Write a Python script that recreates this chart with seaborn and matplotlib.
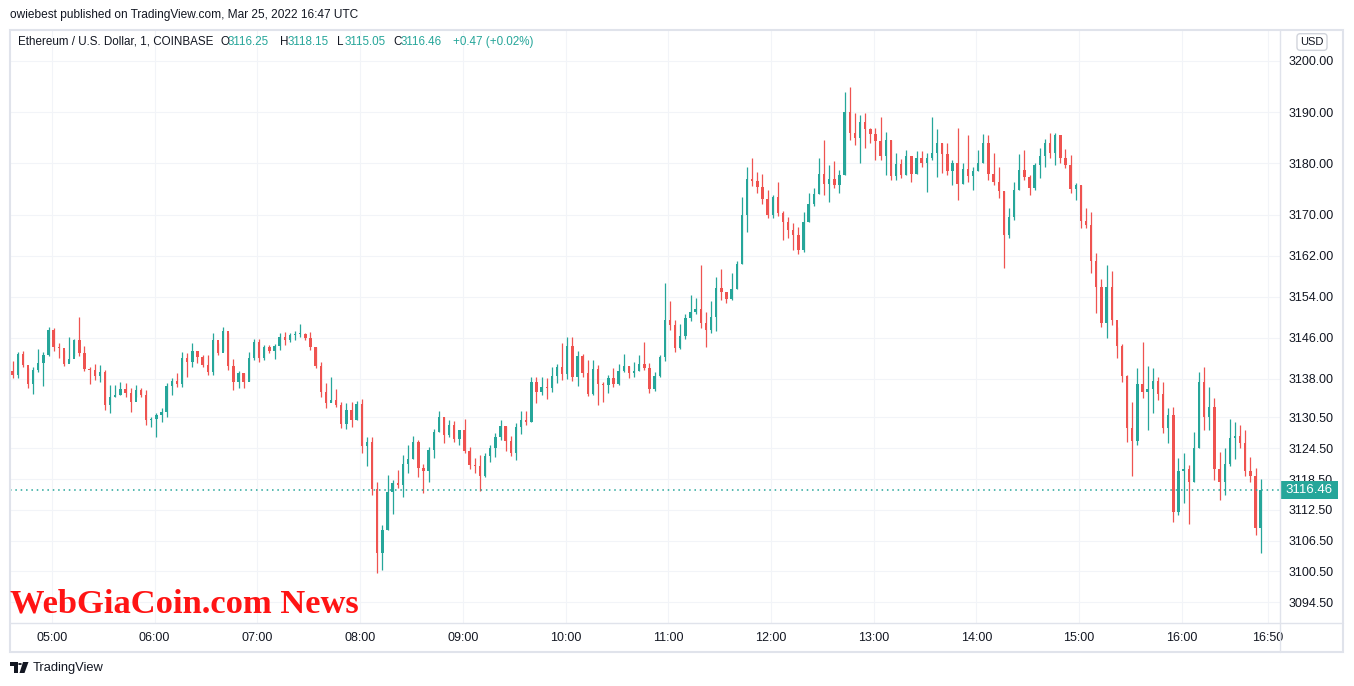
import numpy as np
import pandas as pd
import matplotlib
matplotlib.use("Agg")
import matplotlib.pyplot as plt
import matplotlib.transforms as mtransforms
from matplotlib.patches import Rectangle, Circle, Polygon
import seaborn as sns

# --- chart data (3-minute bars) ---
session_start = "04:36"
bar_minutes = 3
first_open = 3139.5

closes = [
    3138.8, 3142.8, 3140.8, 3137.0, 3139.8, 3141.2, 3142.6, 3147.6, 3144.2, 3144.0,
    3141.0, 3141.8, 3145.6, 3143.0, 3140.0, 3139.8, 3138.5, 3139.4, 3133.0, 3134.5,
    3134.8, 3136.0, 3135.2, 3133.6, 3135.8, 3134.8, 3130.0, 3130.2, 3131.0, 3131.6,
    3136.6, 3137.6, 3137.0, 3142.0, 3141.4, 3143.5, 3142.2, 3140.8, 3139.4, 3145.5,
    3143.0, 3147.3, 3140.5, 3137.5, 3139.2, 3137.4, 3142.0, 3145.2, 3142.0, 3144.2,
    3143.4, 3144.4, 3146.2, 3145.6, 3146.6, 3146.8, 3146.8, 3146.0, 3144.2, 3140.6,
    3135.4, 3133.4, 3134.0, 3133.0, 3129.2, 3132.0, 3130.0, 3133.2, 3125.0, 3125.8,
    3116.6, 3104.0, 3108.5, 3116.0, 3117.8, 3117.4, 3121.5, 3122.5, 3125.8, 3120.6,
    3120.0, 3124.2, 3127.6, 3130.6, 3127.0, 3129.0, 3126.4, 3128.0, 3124.0, 3121.2,
    3121.0, 3119.0, 3123.0, 3124.6, 3126.6, 3128.8, 3126.0, 3123.6, 3128.6, 3130.0,
    3129.6, 3137.5, 3135.5, 3136.5, 3136.2, 3138.6, 3140.4, 3139.0, 3144.5, 3138.4,
    3142.4, 3139.2, 3135.0, 3140.0, 3137.0, 3136.8, 3138.2, 3137.0, 3139.6, 3140.5,
    3139.2, 3139.6, 3141.0, 3140.2, 3136.0, 3138.6, 3142.2, 3149.5, 3148.5, 3144.0,
    3146.4, 3149.8, 3151.0, 3151.6, 3149.0, 3147.6, 3150.0, 3155.8, 3155.0, 3153.6,
    3155.6, 3160.4, 3170.0, 3177.0, 3176.5, 3175.4, 3173.0, 3170.0, 3173.4, 3170.4,
    3168.6, 3167.0, 3166.0, 3163.2, 3168.6, 3172.0, 3174.0, 3178.0, 3176.0, 3177.0,
    3175.8, 3177.8, 3190.0, 3186.0, 3185.0, 3188.0, 3186.8, 3185.8, 3184.4, 3181.5,
    3184.6, 3177.6, 3179.8, 3177.8, 3181.5, 3178.0, 3181.0, 3180.0, 3181.0, 3182.0,
    3184.0, 3181.8, 3178.6, 3180.0, 3176.0, 3179.0, 3177.6, 3178.6, 3180.0, 3184.0,
    3178.0, 3176.4, 3174.6, 3166.0, 3169.5, 3174.8, 3178.8, 3177.4, 3175.2, 3179.6,
    3181.5, 3184.0, 3182.0, 3185.6, 3181.0, 3179.6, 3175.0, 3175.8, 3168.8, 3168.0,
    3161.0, 3156.0, 3149.0, 3156.0, 3149.5, 3144.5, 3138.5, 3128.5, 3126.0, 3137.0,
    3135.5, 3136.0, 3137.6, 3135.0, 3128.5, 3131.0, 3112.0, 3120.0, 3120.5, 3118.0,
    3124.5, 3137.5, 3130.5, 3132.5, 3120.5, 3118.0, 3121.5, 3126.5, 3126.8, 3125.6,
    3120.0, 3119.0, 3109.0, 3116.46,
]

highs = [
    3141.5, 3143.3, 3143.5, 3140.2, 3140.4, 3143.9, 3143.3, 3148.1, 3147.9, 3145.0,
    3143.7, 3146.2, 3145.8, 3150.1, 3144.5, 3140.4, 3141.0, 3140.8, 3139.8, 3136.8,
    3136.8, 3137.4, 3137.2, 3136.3, 3136.8, 3136.3, 3135.9, 3130.6, 3131.4, 3132.4,
    3137.2, 3138.2, 3139.2, 3143.3, 3143.0, 3145.0, 3143.3, 3142.7, 3142.7, 3147.0,
    3145.0, 3148.1, 3147.0, 3141.9, 3139.6, 3139.2, 3143.3, 3145.8, 3145.8, 3144.6,
    3144.6, 3144.8, 3147.0, 3147.2, 3147.0, 3147.4, 3148.7, 3147.0, 3147.2, 3144.2,
    3141.3, 3137.2, 3138.4, 3136.1, 3133.5, 3133.3, 3133.5, 3133.7, 3134.1, 3126.7,
    3126.7, 3117.9, 3109.6, 3119.3, 3118.3, 3120.3, 3123.2, 3125.1, 3126.9, 3126.1,
    3121.4, 3124.8, 3128.3, 3131.8, 3130.6, 3130.0, 3129.8, 3128.1, 3130.2, 3124.8,
    3122.6, 3123.2, 3123.6, 3125.1, 3127.5, 3130.0, 3128.8, 3126.9, 3129.4, 3131.8,
    3131.8, 3138.4, 3138.4, 3138.4, 3138.2, 3140.4, 3140.9, 3145.0, 3146.2, 3146.2,
    3143.5, 3142.9, 3141.7, 3141.7, 3140.7, 3137.4, 3138.8, 3140.2, 3140.9, 3142.9,
    3140.5, 3141.3, 3142.7, 3145.2, 3141.1, 3139.4, 3142.7, 3156.7, 3153.2, 3149.5,
    3148.7, 3150.7, 3154.4, 3153.8, 3160.2, 3151.1, 3153.2, 3157.9, 3159.5, 3155.0,
    3158.7, 3161.0, 3173.5, 3179.3, 3181.1, 3178.4, 3178.0, 3174.9, 3173.9, 3176.4,
    3170.8, 3169.6, 3168.4, 3167.6, 3170.6, 3174.3, 3175.2, 3181.1, 3184.6, 3179.7,
    3180.5, 3178.8, 3194.0, 3194.9, 3189.9, 3189.5, 3189.9, 3186.9, 3186.9, 3189.1,
    3186.2, 3184.6, 3182.1, 3180.9, 3182.7, 3181.5, 3182.5, 3182.5, 3182.1, 3189.1,
    3186.7, 3184.0, 3184.0, 3180.7, 3186.9, 3180.1, 3185.6, 3179.3, 3182.7, 3185.8,
    3185.6, 3182.1, 3179.3, 3174.6, 3171.3, 3176.4, 3181.9, 3182.7, 3177.8, 3180.1,
    3183.0, 3184.8, 3186.0, 3186.0, 3185.6, 3182.8, 3181.7, 3176.2, 3175.8, 3171.3,
    3170.6, 3162.6, 3157.5, 3160.2, 3159.1, 3148.1, 3144.8, 3138.8, 3133.5, 3140.2,
    3145.2, 3140.5, 3140.2, 3138.4, 3137.4, 3132.4, 3132.6, 3122.6, 3123.6, 3121.2,
    3127.7, 3139.4, 3140.4, 3136.5, 3134.3, 3123.8, 3124.6, 3130.2, 3129.6, 3129.0,
    3128.1, 3122.8, 3120.7, 3118.5,
]

lows = [
    3138.2, 3138.2, 3140.4, 3136.3, 3135.1, 3139.4, 3136.6, 3142.5, 3143.5, 3142.0,
    3140.6, 3141.3, 3142.5, 3142.5, 3139.6, 3137.0, 3137.8, 3137.4, 3132.0, 3131.4,
    3134.5, 3134.9, 3134.5, 3131.6, 3134.5, 3134.5, 3129.0, 3128.6, 3126.7, 3129.6,
    3130.6, 3134.9, 3136.5, 3136.5, 3138.4, 3140.4, 3141.1, 3140.4, 3138.8, 3138.8,
    3142.7, 3143.5, 3139.8, 3135.9, 3136.3, 3136.3, 3137.6, 3141.7, 3141.3, 3141.7,
    3143.1, 3141.9, 3143.7, 3144.6, 3145.2, 3145.6, 3146.2, 3145.6, 3143.7, 3140.2,
    3134.5, 3132.4, 3133.5, 3132.6, 3128.5, 3128.3, 3128.7, 3130.0, 3123.6, 3121.1,
    3115.4, 3100.2, 3100.8, 3108.5, 3111.7, 3116.8, 3115.0, 3119.7, 3122.5, 3118.9,
    3115.8, 3117.9, 3122.6, 3127.6, 3125.5, 3126.7, 3125.7, 3125.1, 3123.6, 3120.5,
    3119.7, 3116.2, 3118.9, 3121.8, 3122.8, 3126.1, 3124.0, 3123.0, 3122.2, 3127.3,
    3129.0, 3129.6, 3133.3, 3134.9, 3134.1, 3135.5, 3137.2, 3137.8, 3138.0, 3137.6,
    3136.6, 3138.4, 3134.7, 3134.9, 3132.9, 3133.5, 3135.3, 3136.5, 3136.8, 3139.4,
    3138.2, 3138.4, 3139.6, 3139.8, 3135.3, 3135.7, 3138.4, 3141.5, 3147.6, 3143.3,
    3143.8, 3145.8, 3149.3, 3150.6, 3147.9, 3144.2, 3147.0, 3147.4, 3153.4, 3152.8,
    3153.4, 3155.6, 3160.4, 3166.7, 3175.6, 3174.3, 3172.1, 3169.4, 3169.4, 3169.8,
    3165.1, 3165.5, 3163.2, 3162.4, 3162.8, 3168.6, 3171.8, 3174.0, 3173.9, 3172.5,
    3175.2, 3174.3, 3177.8, 3184.6, 3183.6, 3180.1, 3183.0, 3184.0, 3180.7, 3180.7,
    3177.8, 3176.8, 3176.8, 3177.2, 3177.8, 3176.4, 3178.0, 3179.3, 3174.5, 3180.7,
    3177.4, 3178.2, 3177.8, 3175.8, 3172.9, 3176.0, 3176.4, 3174.9, 3178.6, 3180.0,
    3176.8, 3175.8, 3173.3, 3159.6, 3165.5, 3169.0, 3174.8, 3176.8, 3173.9, 3174.9,
    3177.2, 3179.3, 3181.1, 3179.7, 3180.1, 3179.1, 3174.3, 3172.9, 3167.4, 3167.4,
    3158.7, 3150.9, 3148.1, 3146.0, 3148.5, 3142.1, 3137.4, 3125.7, 3119.1, 3125.1,
    3134.3, 3128.1, 3131.4, 3133.9, 3127.5, 3125.5, 3110.1, 3111.5, 3113.8, 3109.7,
    3117.9, 3124.5, 3128.1, 3128.0, 3118.3, 3114.4, 3115.4, 3121.0, 3122.4, 3124.6,
    3119.1, 3117.9, 3107.6, 3104.1,
]

price_ticks = [3200.00, 3190.00, 3180.00, 3170.00, 3162.00, 3154.00, 3146.00,
               3138.00, 3130.50, 3124.50, 3118.50, 3112.50, 3106.50, 3100.50, 3094.50]
time_ticks = ["05:00", "06:00", "07:00", "08:00", "09:00", "10:00", "11:00",
              "12:00", "13:00", "14:00", "15:00", "16:00", "16:50"]

last_price = 3116.46
publish_line = "owiebest published on TradingView.com, Mar 25, 2022 16:47 UTC"
symbol_name = "Ethereum / U.S. Dollar, 1, COINBASE"
ohlc_labels = ["O", "H", "L", "C"]
ohlc_values = ["3116.25", "3118.15", "3115.05", "3116.46"]
change_text = "+0.47 (+0.02%)"
watermark = "WebGiaCoin.com News"

UP = "#26a69a"
DOWN = "#ef5350"
TXT = "#131722"
GRID = "#f2f4f8"
EDGE = "#e0e3eb"

# --- build dataframe ---
df = pd.DataFrame({"close": closes, "high": highs, "low": lows})
df["open"] = [first_open] + closes[:-1]
h0, m0 = map(int, session_start.split(":"))
df["minute"] = h0 * 60 + m0 + np.arange(len(df)) * bar_minutes + 1
df["up"] = df["close"] >= df["open"]
df["color"] = np.where(df["up"], UP, DOWN)
df["body_lo"] = df[["open", "close"]].min(axis=1)
df["body_h"] = (df["close"] - df["open"]).abs().clip(lower=0.2)

tick_minutes = [int(t[:2]) * 60 + int(t[3:]) for t in time_ticks]

# --- figure ---
sns.set_theme(style="white")
plt.rcParams["font.family"] = ["Liberation Sans", "DejaVu Sans"]

W, H = 1354, 686
fig = plt.figure(figsize=(W / 100, H / 100), dpi=100)
fig.patch.set_facecolor("white")

def fx(px):
    return px / W

def fy(py):
    return 1 - py / H

ax = fig.add_axes([fx(10), fy(623), fx(1270), 593 / H])
ax.set_facecolor("white")

# wicks and bodies
ax.vlines(df["minute"], df["low"], df["high"], colors=df["color"], linewidth=0.9, zorder=3)
ax.bar(df["minute"], df["body_h"], bottom=df["body_lo"], width=1.4,
       color=df["color"], linewidth=0, zorder=3)

ax.axhline(last_price, color=UP, linestyle=(0, (1, 2.5)), linewidth=1.1, zorder=4)

ax.set_xlim(275.5, 1017.3)
ax.set_ylim(3090.45, 3206.0)

ax.set_xticks(tick_minutes)
ax.set_xticklabels(time_ticks)
ax.yaxis.tick_right()
ax.set_yticks(price_ticks)
ax.set_yticklabels([f"{p:.2f}" for p in price_ticks])
ax.tick_params(axis="both", length=0, labelsize=9, colors=TXT)
ax.tick_params(axis="x", pad=6.5)
ax.tick_params(axis="y", pad=6)
ax.grid(True, color=GRID, linewidth=0.8)
ax.set_axisbelow(True)
sns.despine(ax=ax, left=True, bottom=True, right=True, top=True)

# last price tag (drawn over the neighbouring tick label, as on the original)
blend = mtransforms.blended_transform_factory(ax.transAxes, ax.transData)
tag_h = 9 / (593 / (3206.0 - 3090.45))
ax.add_patch(Rectangle((1.0008, last_price - tag_h), (1338 - 1281) / 1270, 2 * tag_h,
                       transform=blend, facecolor=UP, edgecolor="none",
                       clip_on=False, zorder=6))
ax.text((1309.5 - 10) / 1270, last_price, f"{last_price:.2f}", transform=blend,
        ha="center", va="center", color="white", fontsize=9.5, zorder=7, clip_on=False)

# frame and separators
fig.add_artist(Rectangle((fx(10), fy(652)), fx(1333), 622 / H, transform=fig.transFigure,
                         fill=False, edgecolor=EDGE, linewidth=1.5))
fig.add_artist(plt.Line2D([fx(1280), fx(1280)], [fy(30), fy(652)],
                          transform=fig.transFigure, color=EDGE, linewidth=1))
fig.add_artist(plt.Line2D([fx(10), fx(1343)], [fy(623), fy(623)],
                          transform=fig.transFigure, color=EDGE, linewidth=1))

# top texts
fig.text(fx(10), fy(15), publish_line, fontsize=8.6, color=TXT, va="center", ha="left")
fig.text(fx(18), fy(42), symbol_name, fontsize=8.4, color=TXT, va="center", ha="left")
label_x = [220, 280, 337, 393]
for lx, lab, val in zip(label_x, ohlc_labels, ohlc_values):
    fig.text(fx(lx), fy(42), lab, fontsize=8.4, color=TXT, va="center", ha="left")
    fig.text(fx(lx + 8), fy(42), val, fontsize=8.4, color=UP, va="center", ha="left")
fig.text(fx(453), fy(42), change_text, fontsize=8.4, color=UP, va="center", ha="left")

fig.text(fx(1312), fy(42), "USD", fontsize=8, color=TXT, va="center", ha="center",
         bbox=dict(boxstyle="round,pad=0.3,rounding_size=0.3", facecolor="white",
                   edgecolor="#d1d4dc", linewidth=1))

# watermark
fig.text(fx(10), fy(604), watermark, fontsize=24.8, fontweight="bold", color="#ff1414",
         family=["Liberation Serif", "DejaVu Serif"], va="center", ha="left")

# TradingView footer logo
def pts(coords):
    return [(fx(x), fy(y)) for x, y in coords]

fig.add_artist(Polygon(pts([(10, 662), (17.5, 662), (17.5, 673), (14, 673), (14, 665.5), (10, 665.5)]),
                       closed=True, transform=fig.transFigure, facecolor=TXT, edgecolor="none"))
fig.add_artist(Circle((fx(20), fy(664)), 1.9 / W, transform=fig.transFigure,
                      facecolor=TXT, edgecolor="none"))
fig.add_artist(Polygon(pts([(23, 662), (28.5, 662), (24.5, 673), (19.5, 673)]),
                       closed=True, transform=fig.transFigure, facecolor=TXT, edgecolor="none"))
fig.text(fx(33), fy(668), "TradingView", fontsize=9.3, color=TXT, va="center", ha="left")

fig.savefig("out.png", dpi=100)
plt.close(fig)
